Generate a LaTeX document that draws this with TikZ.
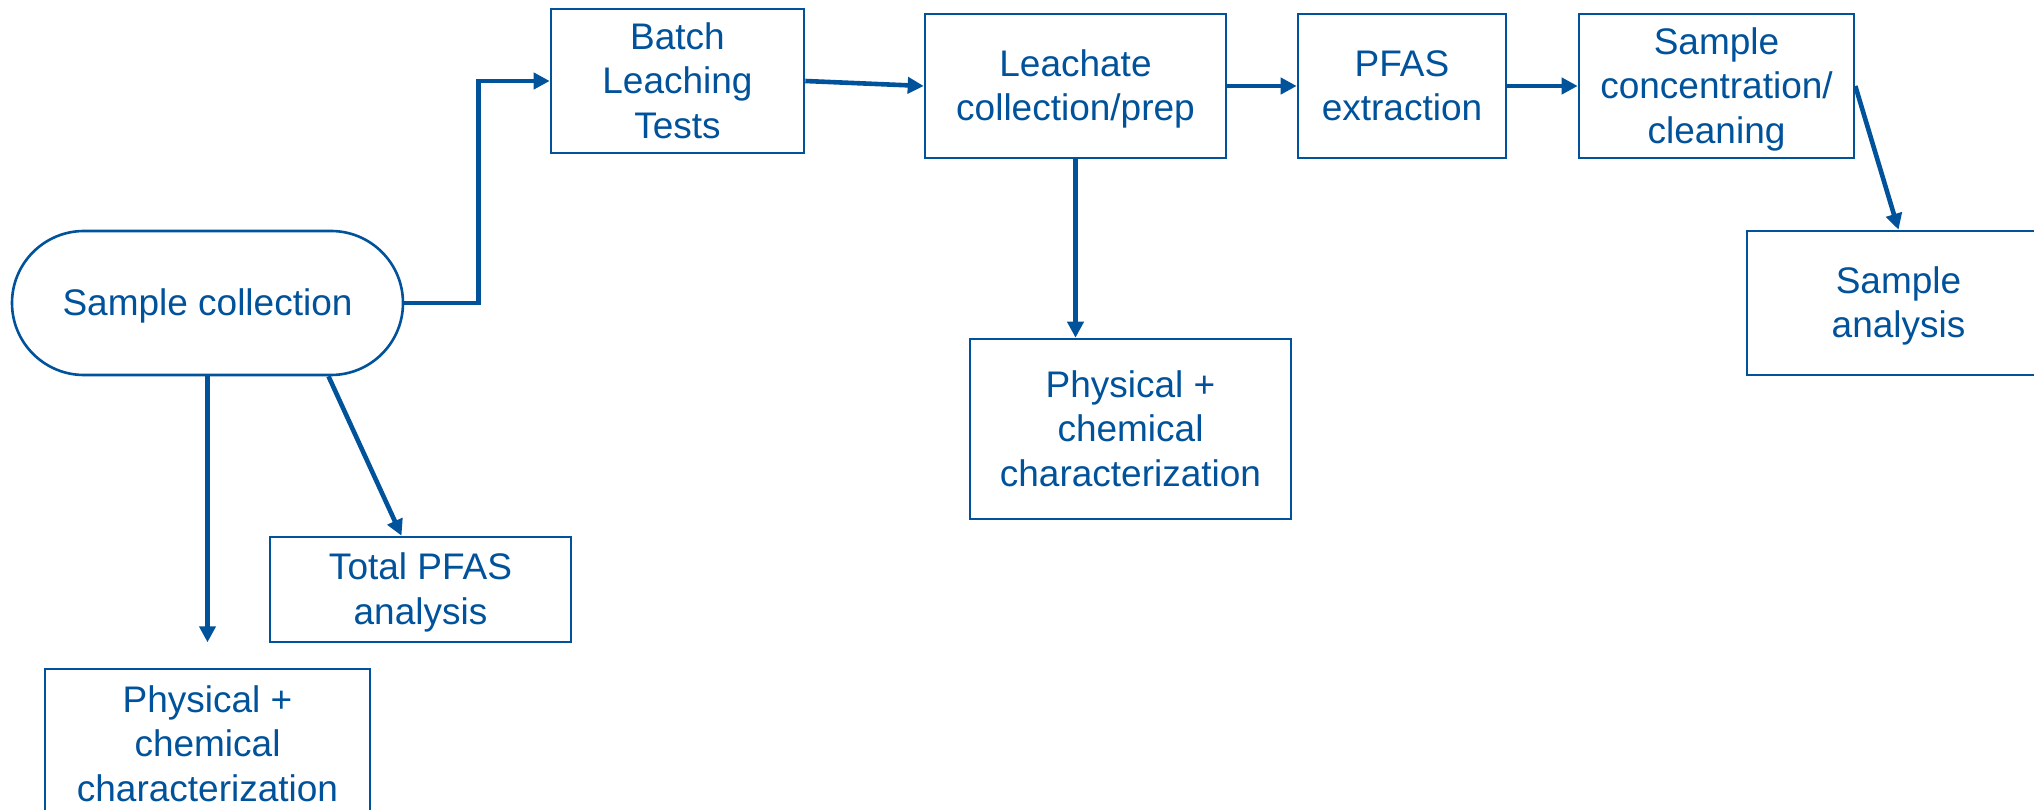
\documentclass[tikz,border=0pt]{standalone}
\usepackage{fontspec}
\setmainfont{Liberation Sans}
\usetikzlibrary{arrows.meta,calc}
\definecolor{pblue}{RGB}{0,82,155}
\newcommand\topstrut{\rule{0pt}{34pt}}
\newcommand\botstrut{\rule[-8.8pt]{0pt}{8.8pt}}
\begin{document}
\begin{tikzpicture}[x=1pt,y=-1pt,
  box/.style={draw=pblue, line width=2.6pt, rectangle, inner sep=0pt, align=center,
    text=pblue, font=\fontsize{37}{44.5}\selectfont},
  flow/.style={draw=pblue, line width=4.6pt, -{Triangle[length=16pt,width=16pt]}},
]
\useasboundingbox[fill=white] (0,0) rectangle (2034,810);
\node[box, rounded corners=72pt, minimum width=391pt, minimum height=144pt] (sc) at (207.5,303) {\topstrut Sample collection\botstrut};
\node[box, minimum width=253pt, minimum height=144pt] (bl) at (677.5,81) {\topstrut Batch\\Leaching\\Tests\botstrut};
\node[box, minimum width=301pt, minimum height=144pt] (lc) at (1075.5,86) {\topstrut Leachate\\collection/prep\botstrut};
\node[box, minimum width=208pt, minimum height=144pt] (pe) at (1402,86) {\topstrut PFAS\\extraction\botstrut};
\node[box, minimum width=275pt, minimum height=144pt] (scc) at (1716.5,86) {\topstrut Sample\\concentration/\\cleaning\botstrut};
\node[box, minimum width=303pt, minimum height=144pt] (sa) at (1898.5,303) {\topstrut Sample\\analysis\botstrut};
\node[box, minimum width=321pt, minimum height=180pt] (pc2) at (1130.5,429) {\topstrut Physical +\\chemical\\characterization\botstrut};
\node[box, minimum width=301pt, minimum height=105pt] (tp) at (420.5,589.5) {\topstrut Total PFAS\\analysis\botstrut};
\node[box, minimum width=325pt, minimum height=150pt] (pc1) at (207.5,744) {\topstrut Physical +\\chemical\\characterization\botstrut};

\draw[flow] (sc.east) -- ++(74,0) |- (bl.west);
\draw[flow] (bl.east) -- (lc.west);
\draw[flow] (lc.east) -- (pe.west);
\draw[flow] (pe.east) -- (scc.west);
\draw[flow] (scc.east) -- (sa.north);
\draw[flow] (lc.south) -- (lc.south |- pc2.north);
\coordinate (scdown) at ($(sc.south)+(0,266)$);
\draw[flow] (sc.south) -- (scdown);
\draw[flow] ($(sc.south)+(121,0)$) -- ($(tp.north)+(-19,0)$);
\end{tikzpicture}
\end{document}
